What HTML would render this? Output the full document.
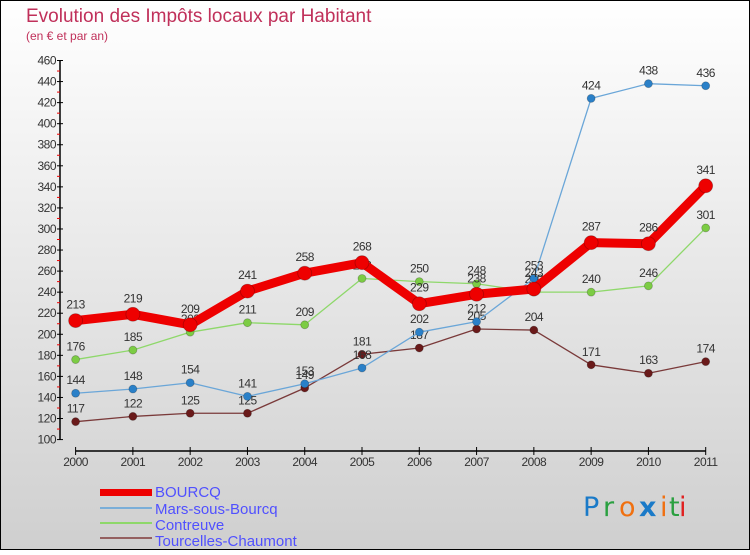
<!DOCTYPE html>
<html><head><meta charset="utf-8"><style>
body{margin:0}
#c{width:750px;height:550px;position:relative;font-family:"Liberation Sans",sans-serif}
</style></head><body>
<div id="c">
<svg id="s" width="750" height="550" xmlns="http://www.w3.org/2000/svg">
<defs><linearGradient id="bg" x1="0" y1="0" x2="0" y2="1"><stop offset="0" stop-color="#ffffff"/><stop offset="1" stop-color="#cfcfcf"/></linearGradient></defs>
<rect x="0.5" y="0.5" width="749" height="549" fill="url(#bg)" stroke="#000"/>
<text x="26" y="22" font-size="19" fill="#c0305a">Evolution des Impôts locaux par Habitant</text>
<text x="26" y="40" font-size="12" fill="#c0305a">(en € et par an)</text>
<g id="axes"></g><g id="series"></g>
<g font-size="15" fill="#5050ff">
<rect x="100" y="489" width="52" height="7" fill="#e00"/>
<text x="155" y="497">BOURCQ</text>
<rect x="100" y="507" width="52" height="2" fill="#7aaed8"/>
<text x="155" y="514">Mars-sous-Bourcq</text>
<rect x="100" y="522" width="52" height="2" fill="#8ed86a"/>
<text x="155" y="530">Contreuve</text>
<rect x="100" y="537" width="52" height="2" fill="#946060"/>
<text x="155" y="546">Tourcelles-Chaumont</text>
</g>
<g font-size="27" font-family="'DejaVu Sans',sans-serif">
<text x="583" y="516" fill="#1a7ac8">P</text><text x="603" y="516" fill="#2aa040">r</text><text x="619" y="516" fill="#f07010">o</text><text x="639" y="516" fill="#1a7ac8" font-weight="bold">x</text><text x="660" y="516" fill="#f07010">i</text><text x="669" y="516" fill="#2aa040">t</text><text x="679" y="516" fill="#e02020">i</text>
</g>
</svg>
</div>
<script>
const years=[2000,2001,2002,2003,2004,2005,2006,2007,2008,2009,2010,2011];
const bourcq=[213,219,209,241,258,268,229,238,243,287,286,341];
const mars=[144,148,154,141,153,168,202,212,253,424,438,436];
const contreuve=[176,185,202,211,209,253,250,248,240,240,246,301];
const tourcelles=[117,122,125,125,149,181,187,205,204,171,163,174];
const yTicks=[100,120,140,160,180,200,220,240,260,280,300,320,340,360,380,400,420,440,460];
const NS="http://www.w3.org/2000/svg";
function X(i){return 75.6+i*(705.7-75.6)/(years.length-1);}
function Y(v){return 60.5+(460-v)*1.053;}
function mk(t,a,p){const e=document.createElementNS(NS,t);for(const k in a)e.setAttribute(k,a[k]);p.appendChild(e);return e;}
const ax=document.getElementById('axes');
const yl=mk('line',{x1:60,y1:Y(460),x2:60,y2:Y(100),stroke:'#000','stroke-width':1.5},ax);


yTicks.forEach((v,i)=>{
 mk('line',{x1:57,x2:63,y1:Y(v),y2:Y(v),stroke:'#000'},ax);
 if(i<yTicks.length-1)mk('line',{x1:57,x2:60,y1:Y(v+10),y2:Y(v+10),stroke:'#e00'},ax);
 const t=mk('text',{x:56,y:Y(v)+4,'font-size':12,fill:'#333','text-anchor':'end','letter-spacing':'-0.5'},ax);
 t.textContent=v;
 
 
});
const xl=mk('line',{x1:X(0),y1:451,x2:X(11),y2:451,stroke:'#000','stroke-width':1.5},ax);


years.forEach((yr,i)=>{
 mk('line',{x1:X(i),x2:X(i),y1:447,y2:455,stroke:'#000'},ax);
 const t=mk('text',{x:X(i),y:466,'font-size':12,fill:'#333','text-anchor':'middle','letter-spacing':'-0.5'},ax);
 t.textContent=yr;
 
 
});
const sg=document.getElementById('series');
function draw(data,name,col,dot,w,r){
 const g=mk('g',{},sg);
 
 
 const pl=mk('polyline',{points:data.map((v,i)=>X(i)+','+Y(v)).join(' '),fill:'none',stroke:col,'stroke-width':w,'stroke-linejoin':'round'},g);
 
 
 data.forEach((v,i)=>{
  const c=mk('circle',{cx:X(i),cy:Y(v),r:r,fill:dot,stroke:'rgba(0,0,0,0.25)','stroke-width':0.8},g);
  
  
  const t=mk('text',{x:X(i),y:Y(v)-(r+5),'font-size':12,fill:'#333','text-anchor':'middle','letter-spacing':'-0.5'},g);
  t.textContent=v;
  
  
 });
}
draw(tourcelles,'tourcelles','#7a3a3a','#6a1a1a',1.3,4);
draw(contreuve,'contreuve','#8ed86a','#7ccc44',1.3,4);
draw(mars,'mars','#6aa6d8','#2a80c8',1.3,4);
draw(bourcq,'bourcq','#ee0000','#ee0000',9,7);
</script>
</body></html>
